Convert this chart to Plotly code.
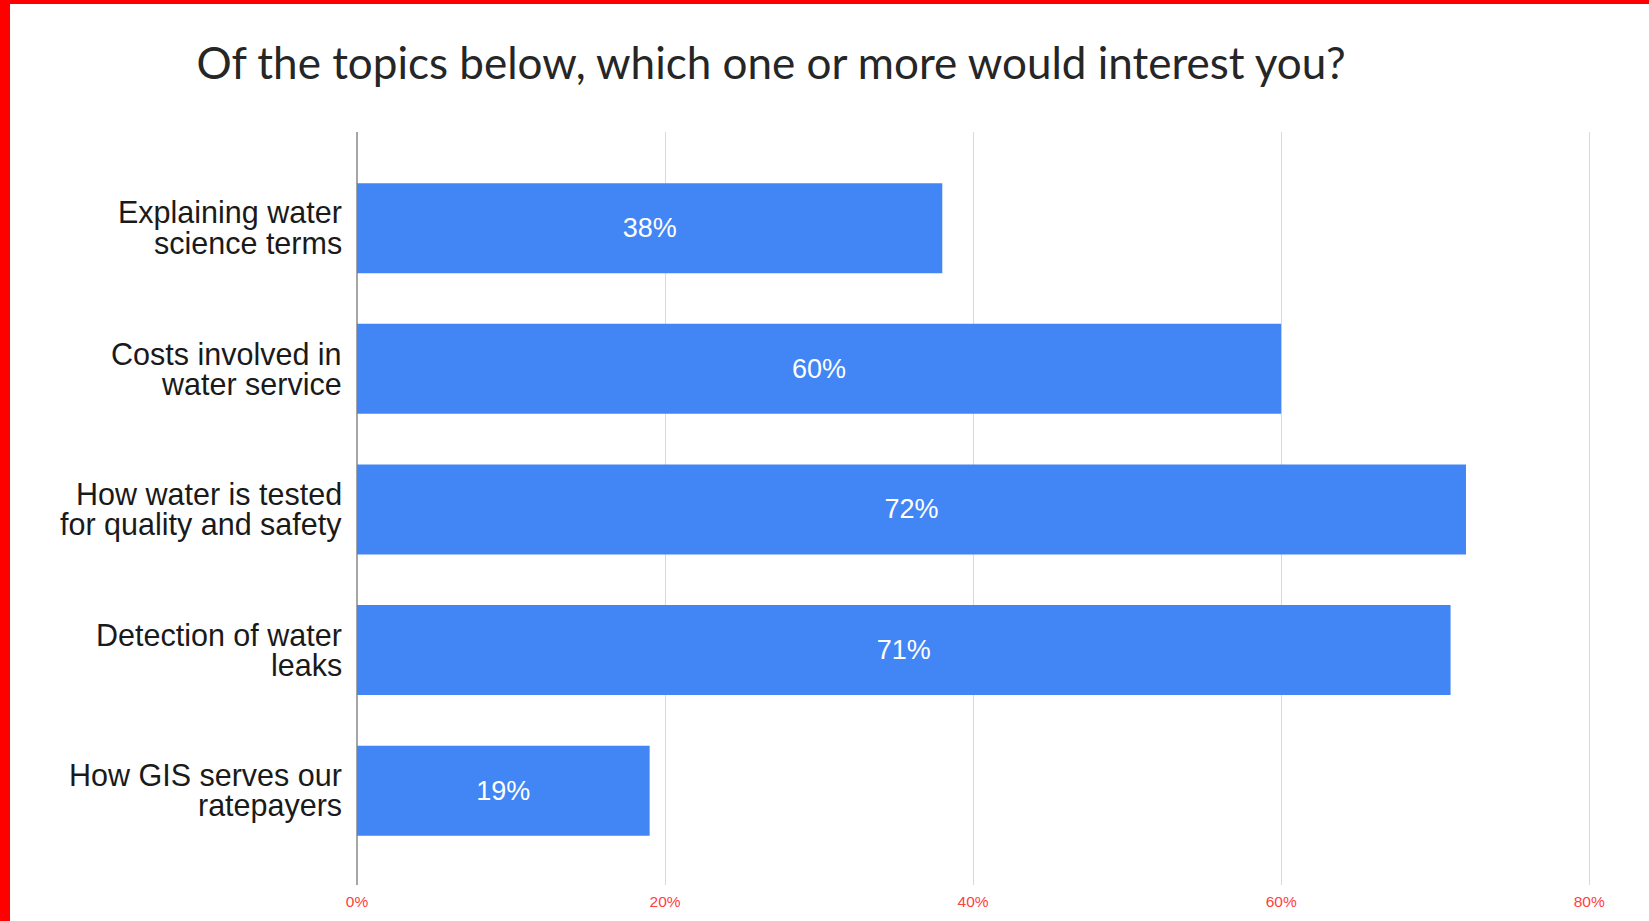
import plotly.graph_objects as go

# Survey results: share of respondents interested in each topic
topics = [
    "Explaining water<br>science terms",
    "Costs involved in<br>water service",
    "How water is tested<br>for quality and safety",
    "Detection of water<br>leaks",
    "How GIS serves our<br>ratepayers",
]
shares = [0.38, 0.60, 0.72, 0.71, 0.19]
tick_values = [0, 0.2, 0.4, 0.6, 0.8]
tick_labels = ["0%", "20%", "40%", "60%", "80%"]
chart_title = "Of the topics below, which one or more would interest you?"

W, H = 1649, 921
ML, MR, MT, MB = 357, 29, 132, 36
plot_w = W - ML - MR
plot_h = H - MT - MB

LABEL_FONT = "Liberation Sans, Arial, sans-serif"

fig = go.Figure(
    go.Bar(
        x=shares,
        y=list(range(len(topics))),
        orientation="h",
        marker=dict(color="#4285F4", line=dict(width=0)),
        text=[f"{round(v * 100)}%" for v in shares],
        textposition="inside",
        insidetextanchor="middle",
        textfont=dict(family=LABEL_FONT, size=27, color="white"),
        width=0.64,
        hoverinfo="skip",
    )
)

# Category labels: two tightly spaced lines to the left of each bar
line_gap = 15.3
for i, label in enumerate(topics):
    lines = label.split("<br>")
    n = len(lines)
    for j, line in enumerate(lines):
        fig.add_annotation(
            x=0, xref="paper", xanchor="right", xshift=-13,
            y=i, yref="y", yanchor="middle",
            yshift=((n - 1) / 2 - j) * 2 * line_gap,
            text=line, showarrow=False,
            font=dict(family=LABEL_FONT, size=30.5, color="#1a1a1a"),
        )

# Red frame along the left and top edges of the page
fig.add_shape(type="rect", xref="paper", yref="paper",
              x0=-ML / plot_w, x1=(10 - ML) / plot_w,
              y0=-MB / plot_h, y1=1 + MT / plot_h,
              fillcolor="#FF0000", line=dict(width=0), layer="above")
fig.add_shape(type="rect", xref="paper", yref="paper",
              x0=-ML / plot_w, x1=1 + MR / plot_w,
              y0=1 + (MT - 4) / plot_h, y1=1 + MT / plot_h,
              fillcolor="#FF0000", line=dict(width=0), layer="above")

fig.update_layout(
    width=W, height=H,
    margin=dict(l=ML, r=MR, t=MT, b=MB, pad=0),
    paper_bgcolor="white",
    plot_bgcolor="white",
    showlegend=False,
    title=dict(
        text=chart_title,
        x=771 / W, xanchor="center",
        y=1 - 64 / H, yanchor="middle",
        font=dict(family="Lato, Open Sans, sans-serif", size=44, color="#262626"),
    ),
    xaxis=dict(
        range=[0, 0.82],
        tickvals=tick_values,
        ticktext=tick_labels,
        showgrid=True,
        gridcolor="#D9D9D9",
        gridwidth=1,
        zeroline=True,
        zerolinecolor="#A6A6A6",
        zerolinewidth=1.5,
        showline=False,
        ticks="outside",
        ticklen=2,
        tickcolor="white",
        tickfont=dict(family=LABEL_FONT, size=15.5, color="#FF4040"),
        fixedrange=True,
    ),
    yaxis=dict(
        range=[len(topics) - 0.5 + 0.171, -0.684],
        showticklabels=False,
        showgrid=False,
        zeroline=False,
        ticks="",
        fixedrange=True,
    ),
)

fig.write_html("out.html")
